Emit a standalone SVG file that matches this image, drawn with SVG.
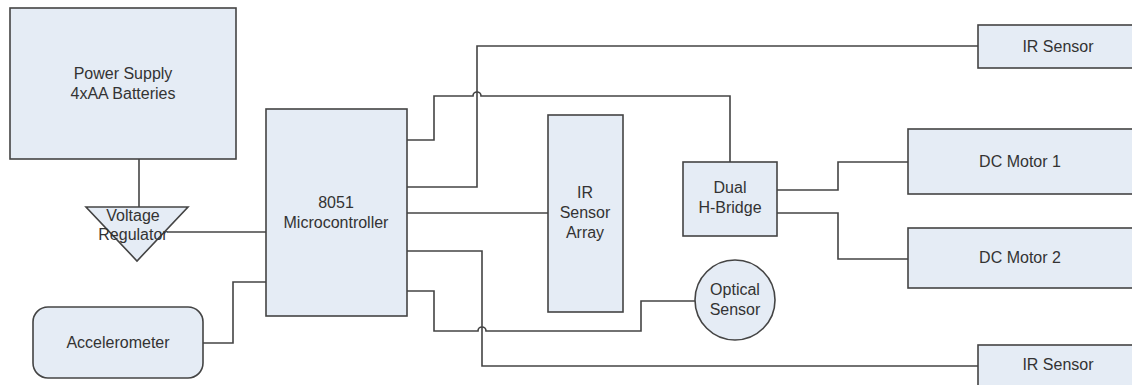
<svg xmlns="http://www.w3.org/2000/svg" width="1132" height="385" viewBox="0 0 1132 385">
<style>
.n{fill:#e5ecf5;stroke:#444;stroke-width:1.6}
.c{fill:none;stroke:#444;stroke-width:1.6}
text{font-family:"Liberation Sans",Arial,sans-serif;font-size:16px;fill:#333;text-anchor:middle}
</style>
<rect width="1132" height="385" fill="#fff"/>
<g id="connectors">
<path class="c" d="M139,159 V208"/>
<path class="c" d="M167,232 H266"/>
<path class="c" d="M203,343 H233 V282 H266"/>
<path class="c" d="M407,140 H434 V96 H473 A4,4 0 0 1 481,96 H730 V162"/>
<path class="c" d="M407,187 H477 V46 H978"/>
<path class="c" d="M407,213 H548"/>
<path class="c" d="M777,190 H838 V162 H908"/>
<path class="c" d="M777,213 H838 V259 H908"/>
<path class="c" d="M407,251 H482 V366 H978"/>
<path class="c" d="M407,291 H434 V331 H478 A4,4 0 0 1 486,331 H641 V301 H695"/>
</g>
<g id="power"><rect class="n" x="10" y="8" width="226" height="151"/><text x="123" y="79">Power Supply</text><text x="123" y="99">4xAA Batteries</text></g>
<g id="regulator"><polygon class="n" points="86,207 188,207 137,261"/><text x="133" y="221">Voltage</text><text x="133" y="240">Regulator</text></g>
<g id="mcu"><rect class="n" x="266" y="109" width="141" height="207"/><text x="336" y="208">8051</text><text x="336" y="228">Microcontroller</text></g>
<g id="accel"><rect class="n" x="33" y="307" width="170" height="71" rx="15"/><text x="118" y="348">Accelerometer</text></g>
<g id="irarray"><rect class="n" x="548" y="115" width="75" height="197"/><text x="585" y="198">IR</text><text x="585" y="218">Sensor</text><text x="585" y="238">Array</text></g>
<g id="hbridge"><rect class="n" x="683" y="162" width="94" height="74"/><text x="730" y="193">Dual</text><text x="730" y="213">H-Bridge</text></g>
<g id="optical"><circle class="n" cx="735" cy="300" r="40"/><text x="735" y="295">Optical</text><text x="735" y="315">Sensor</text></g>
<g id="irtop"><rect class="n" x="978" y="25" width="160" height="43"/><text x="1058" y="52">IR Sensor</text></g>
<g id="motor1"><rect class="n" x="908" y="129" width="230" height="65"/><text x="1020" y="167">DC Motor 1</text></g>
<g id="motor2"><rect class="n" x="908" y="228" width="230" height="60"/><text x="1020" y="263">DC Motor 2</text></g>
<g id="irbottom"><rect class="n" x="978" y="345" width="160" height="50"/><text x="1058" y="370">IR Sensor</text></g>
</svg>
